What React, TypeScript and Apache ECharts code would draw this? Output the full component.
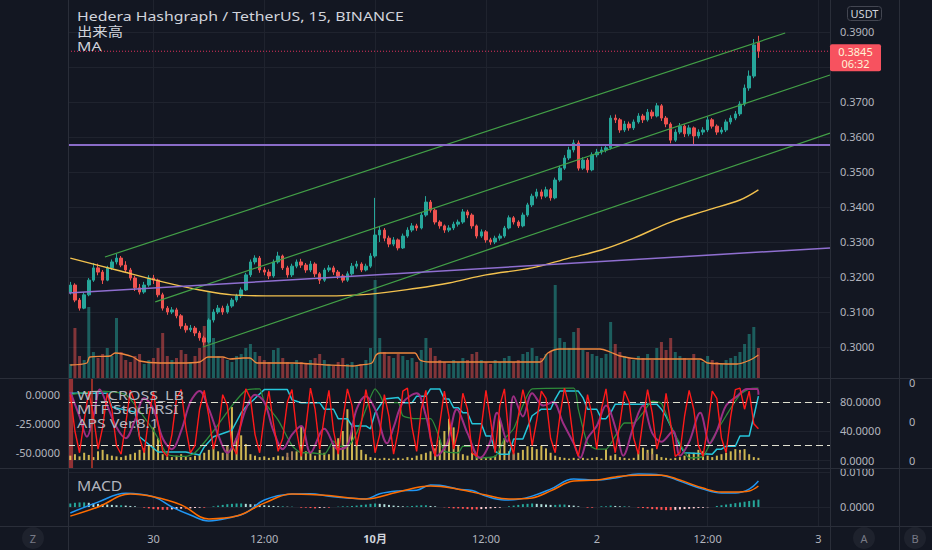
import React, { useEffect, useRef } from 'react';
import * as echarts from 'echarts';

// 30-minute candles: [open, close, low, high]
const candles: number[][] = [
  [0.3157,0.3177,0.3150,0.3186],[0.3177,0.3134,0.3128,0.3182],[0.3134,0.3111,0.3104,0.3140],[0.3111,0.3149,0.3108,0.3156],[0.3149,0.3191,0.3145,0.3197],
  [0.3191,0.3226,0.3186,0.3240],[0.3226,0.3214,0.3205,0.3238],[0.3214,0.3191,0.3180,0.3220],[0.3191,0.3226,0.3188,0.3232],[0.3226,0.3243,0.3220,0.3250],
  [0.3243,0.3254,0.3236,0.3266],[0.3254,0.3234,0.3228,0.3260],[0.3234,0.3220,0.3214,0.3245],[0.3220,0.3197,0.3190,0.3226],[0.3197,0.3169,0.3160,0.3203],
  [0.3169,0.3157,0.3150,0.3180],[0.3157,0.3177,0.3152,0.3186],[0.3177,0.3197,0.3172,0.3205],[0.3197,0.3191,0.3180,0.3206],[0.3191,0.3149,0.3142,0.3195],
  [0.3149,0.3111,0.3104,0.3155],[0.3111,0.3100,0.3092,0.3117],[0.3100,0.3106,0.3094,0.3114],[0.3106,0.3089,0.3082,0.3112],[0.3089,0.3060,0.3052,0.3094],
  [0.3060,0.3049,0.3041,0.3068],[0.3049,0.3054,0.3043,0.3063],[0.3054,0.3040,0.3031,0.3060],[0.3040,0.3026,0.3018,0.3046],[0.3026,0.3014,0.3004,0.3032],
  [0.3014,0.3077,0.3010,0.3082],[0.3077,0.3100,0.3070,0.3108],[0.3100,0.3111,0.3094,0.3120],[0.3111,0.3100,0.3092,0.3118],[0.3100,0.3117,0.3095,0.3124],
  [0.3117,0.3134,0.3112,0.3140],[0.3134,0.3146,0.3128,0.3152],[0.3146,0.3163,0.3140,0.3170],[0.3163,0.3206,0.3160,0.3212],[0.3206,0.3243,0.3200,0.3250],
  [0.3243,0.3254,0.3236,0.3262],[0.3254,0.3220,0.3212,0.3260],[0.3220,0.3214,0.3205,0.3228],[0.3214,0.3203,0.3194,0.3222],[0.3203,0.3243,0.3198,0.3250],
  [0.3243,0.3260,0.3238,0.3272],[0.3260,0.3226,0.3220,0.3264],[0.3226,0.3206,0.3198,0.3232],[0.3206,0.3231,0.3200,0.3238],[0.3231,0.3243,0.3225,0.3250],
  [0.3243,0.3234,0.3226,0.3252],[0.3234,0.3220,0.3212,0.3240],[0.3220,0.3237,0.3214,0.3246],[0.3237,0.3209,0.3200,0.3242],[0.3209,0.3191,0.3180,0.3214],
  [0.3191,0.3220,0.3186,0.3226],[0.3220,0.3226,0.3214,0.3234],[0.3226,0.3214,0.3206,0.3232],[0.3214,0.3203,0.3194,0.3220],[0.3203,0.3191,0.3184,0.3208],
  [0.3191,0.3209,0.3186,0.3216],[0.3209,0.3231,0.3204,0.3240],[0.3231,0.3237,0.3224,0.3246],[0.3237,0.3220,0.3214,0.3242],[0.3220,0.3231,0.3216,0.3238],
  [0.3231,0.3260,0.3226,0.3268],[0.3260,0.3320,0.3255,0.3426],[0.3320,0.3334,0.3300,0.3346],[0.3334,0.3311,0.3302,0.3340],[0.3311,0.3294,0.3285,0.3318],
  [0.3294,0.3306,0.3288,0.3314],[0.3306,0.3283,0.3276,0.3310],[0.3283,0.3317,0.3280,0.3324],[0.3317,0.3334,0.3312,0.3342],[0.3334,0.3346,0.3328,0.3354],
  [0.3346,0.3340,0.3332,0.3352],[0.3340,0.3377,0.3336,0.3384],[0.3377,0.3414,0.3372,0.3431],[0.3414,0.3391,0.3384,0.3420],[0.3391,0.3357,0.3350,0.3396],
  [0.3357,0.3346,0.3338,0.3362],[0.3346,0.3334,0.3326,0.3350],[0.3334,0.3340,0.3328,0.3348],[0.3340,0.3351,0.3334,0.3358],[0.3351,0.3357,0.3344,0.3364],
  [0.3357,0.3386,0.3352,0.3394],[0.3386,0.3377,0.3368,0.3392],[0.3377,0.3346,0.3338,0.3382],[0.3346,0.3317,0.3310,0.3350],[0.3317,0.3329,0.3312,0.3336],
  [0.3329,0.3306,0.3298,0.3334],[0.3306,0.3300,0.3292,0.3312],[0.3300,0.3311,0.3294,0.3318],[0.3311,0.3317,0.3304,0.3324],[0.3317,0.3340,0.3312,0.3346],
  [0.3340,0.3369,0.3336,0.3376],[0.3369,0.3357,0.3350,0.3374],[0.3357,0.3346,0.3340,0.3362],[0.3346,0.3377,0.3342,0.3384],[0.3377,0.3406,0.3372,0.3412],
  [0.3406,0.3431,0.3400,0.3438],[0.3431,0.3443,0.3424,0.3452],[0.3443,0.3431,0.3422,0.3450],[0.3431,0.3449,0.3426,0.3458],[0.3449,0.3426,0.3418,0.3454],
  [0.3426,0.3477,0.3422,0.3484],[0.3477,0.3511,0.3472,0.3518],[0.3511,0.3540,0.3506,0.3548],[0.3540,0.3563,0.3534,0.3572],[0.3563,0.3583,0.3556,0.3592],
  [0.3583,0.3511,0.3504,0.3590],[0.3511,0.3534,0.3506,0.3542],[0.3534,0.3506,0.3498,0.3540],[0.3506,0.3549,0.3502,0.3556],[0.3549,0.3557,0.3542,0.3566],
  [0.3557,0.3563,0.3550,0.3572],[0.3563,0.3569,0.3556,0.3578],[0.3569,0.3654,0.3564,0.3662],[0.3654,0.3649,0.3640,0.3664],[0.3649,0.3620,0.3612,0.3654],
  [0.3620,0.3637,0.3614,0.3646],[0.3637,0.3626,0.3618,0.3644],[0.3626,0.3643,0.3620,0.3650],[0.3643,0.3660,0.3638,0.3668],[0.3660,0.3649,0.3640,0.3666],
  [0.3649,0.3671,0.3644,0.3680],[0.3671,0.3660,0.3652,0.3678],[0.3660,0.3689,0.3656,0.3697],[0.3689,0.3654,0.3646,0.3694],[0.3654,0.3637,0.3628,0.3660],
  [0.3637,0.3591,0.3582,0.3642],[0.3591,0.3614,0.3586,0.3622],[0.3614,0.3631,0.3608,0.3640],[0.3631,0.3609,0.3600,0.3636],[0.3609,0.3626,0.3602,0.3634],
  [0.3626,0.3603,0.3580,0.3630],[0.3603,0.3614,0.3596,0.3622],[0.3614,0.3620,0.3606,0.3628],[0.3620,0.3649,0.3614,0.3658],[0.3649,0.3631,0.3624,0.3654],
  [0.3631,0.3614,0.3606,0.3636],[0.3614,0.3620,0.3608,0.3628],[0.3620,0.3643,0.3614,0.3650],[0.3643,0.3654,0.3636,0.3662],[0.3654,0.3666,0.3648,0.3674],
  [0.3666,0.3694,0.3660,0.3702],[0.3694,0.3740,0.3688,0.3750],[0.3740,0.3774,0.3732,0.3790],[0.3774,0.3863,0.3768,0.3880],[0.3870,0.3845,0.3826,0.3889],
];

const volumes: number[] = [
  14, 50, 22, 18, 71, 26, 20, 24, 30, 22,
  60, 26, 18, 16, 22, 24, 14, 18, 20, 30,
  45, 22, 18, 20, 28, 24, 16, 22, 30, 52,
  86, 40, 22, 20, 18, 16, 22, 24, 30, 34,
  26, 22, 18, 16, 28, 30, 20, 16, 14, 18,
  16, 14, 18, 20, 24, 18, 14, 12, 16, 20,
  14, 16, 12, 14, 18, 30, 98, 40, 26, 22,
  20, 24, 22, 18, 20, 16, 28, 40, 30, 22,
  18, 16, 14, 18, 16, 20, 18, 24, 26, 18,
  16, 14, 18, 16, 20, 22, 16, 18, 24, 26,
  30, 22, 20, 24, 26, 93, 40, 36, 30, 46,
  50, 28, 26, 24, 22, 20, 24, 56, 34, 26,
  22, 20, 18, 22, 20, 24, 18, 30, 36, 28,
  40, 26, 22, 20, 18, 24, 18, 16, 22, 18,
  16, 14, 18, 20, 22, 26, 34, 44, 51, 30,
];

const volumeMA: number[][] = [
  [0, 13], [3.6, 15], [4.2, 21], [8.6, 22], [9.7, 25], [11.4, 24], [13.6, 21], [15, 17], [19.4, 15], [23.7, 15],
  [28, 16], [29.8, 21], [33, 21], [34.6, 19], [37.4, 20], [38.9, 20], [40.4, 15], [48.2, 15], [55.6, 13], [61.2, 12],
  [62.7, 13], [65.3, 15], [66.2, 23], [67.1, 25], [74.6, 25], [75.7, 18], [77.9, 16], [101.7, 16], [103.4, 25], [106, 29],
  [114.7, 29], [116.9, 26], [119, 22], [123.4, 19], [136.4, 19], [138, 15], [144.4, 14], [147.2, 18], [149, 23],
];

const priceMA: number[][] = [
  [0, 0.3254], [10, 0.3220], [20, 0.3186], [28, 0.3163], [35, 0.3149], [45, 0.3146], [55, 0.3146], [65, 0.3151],
  [75, 0.3168], [82, 0.3183], [90, 0.3206], [100, 0.3226], [108, 0.3254], [115, 0.3277], [122, 0.3311], [130, 0.3357],
  [138, 0.3391], [145, 0.3420], [149, 0.3449],
];

const channelUpper: number[][] = [[7.5, 0.3257], [154.8, 0.3897]];
const channelMiddle: number[][] = [[18.4, 0.3129], [164.5, 0.3777]];
const channelLower: number[][] = [[28.7, 0.3000], [164.5, 0.3611]];
const levelLine: number[][] = [[-0.5, 0.3577], [164.5, 0.3577]];
const supportLine: number[][] = [[-0.5, 0.3154], [164.5, 0.3283]];

const lastPrice = 0.3845;
const countdown = '06:32';

const priceTicks = [0.30, 0.31, 0.32, 0.33, 0.34, 0.35, 0.36, 0.37, 0.38, 0.39];
const priceLabelTicks = [0.30, 0.31, 0.32, 0.33, 0.34, 0.35, 0.36, 0.37, 0.39];
const timeTickIdx = [18, 42, 66, 90, 114, 138, 162];
const timeTickLabels = ['30', '12:00', '10月', '12:00', '2', '12:00', '3'];

// MTF StochRSI style lines (right scale 0-100)
const stochFast: number[] = [
  90, 40, 10, 55, 95, 60, 15, 45, 92, 70,
  20, 8, 50, 96, 80, 30, 10, 60, 94, 50,
  12, 5, 35, 85, 97, 45, 10, 20, 70, 96,
  60, 15, 40, 90, 75, 20, 8, 55, 98, 85,
  35, 10, 60, 95, 50, 12, 30, 80, 97, 40,
  5, 45, 99, 70, 15, 60, 96, 40, 8, 55,
  98, 75, 20, 50, 97, 65, 10, 35, 90, 60,
  8, 40, 95, 99, 45, 12, 70, 96, 30, 5,
  50, 95, 60, 15, 40, 92, 70, 10, 5, 45,
  96, 55, 10, 75, 98, 30, 8, 60, 97, 70,
  20, 55, 95, 85, 30, 10, 60, 99, 75, 25,
  5, 40, 90, 60, 15, 70, 98, 45, 10, 50,
  95, 80, 30, 8, 55, 97, 65, 15, 40, 92,
  50, 5, 10, 60, 96, 70, 20, 5, 45, 95,
  85, 30, 10, 60, 97, 99, 70, 95, 50, 43,
];
const stochSlow: number[][] = [
  [0, 94], [2, 60], [3.6, 32], [5, 60], [6.4, 97], [8, 75], [10, 45], [12, 30], [14, 55], [16, 85],
  [18, 70], [20, 30], [22, 15], [24, 40], [26, 80], [28, 95], [30, 70], [32, 35], [34, 10], [36, 30],
  [38, 70], [40, 90], [42, 80], [44, 40], [46, 15], [48, 35], [50, 47], [52, 10], [55, 43], [58, 15],
  [60, 20], [62, 70], [64, 88], [66, 70], [68.6, 23], [70, 45], [72, 79], [75, 92], [77, 61], [79.4, 6],
  [81.6, 23], [83.7, 70], [86, 37], [88.7, 3], [90.9, 25], [92.4, 65], [94.6, 25], [96, 88], [98, 60], [100, 92],
  [102.4, 75], [104.5, 80], [106.7, 51], [109, 23], [110.4, 3], [112, 30], [114, 47], [116, 75], [118.4, 37], [119.7, 6],
  [122, 47], [124, 75], [126, 37], [128, 25], [130.5, 40], [132, 6], [134, 25], [136.4, 65], [138.5, 23], [140, 40],
  [142, 75], [144.4, 88], [146.5, 98], [148.7, 98], [149, 90],
];
const stochMid: number[][] = [
  [0, 90], [6, 95], [12, 90], [17, 50], [19, 30], [21, 8], [25, 5], [27, 10], [31, 40], [35, 75],
  [38, 96], [41, 98], [42, 80], [45, 55], [48, 20], [50, 10], [52, 10], [55, 8], [57, 26], [58, 19],
  [60, 19], [62, 37], [64, 70], [66, 98], [67, 90], [68, 79], [71, 79], [72, 61], [75, 57], [78, 57],
  [80, 29], [81, 12], [84, 10], [85, 19], [87, 19], [88, 3], [92, 5], [94, 29], [96, 43], [98, 75],
  [100, 98], [109, 99], [110, 70], [112, 23], [114, 15], [116, 15], [118, 33], [120, 51], [122, 51], [124, 65],
  [126, 81], [128, 78], [130, 47], [132, 23], [134, 3], [137, 5], [139, 29], [142, 61], [145, 90], [147, 98],
  [149, 99],
];
const stochHigh: number[][] = [
  [0, 92], [8, 92], [9, 73], [14, 66], [15, 32], [19, 11], [25, 11], [28, 7], [29, 18], [31, 32],
  [35, 41], [37, 65], [38, 73], [42, 97], [47, 97], [48, 83], [50, 79], [54, 79], [55, 70], [57, 70],
  [58, 57], [60, 57], [61, 47], [64, 47], [65, 43], [66, 65], [68, 84], [71, 86], [72, 79], [74, 79],
  [75, 88], [77, 88], [78, 98], [80, 98], [81, 84], [82, 84], [83, 72], [84, 72], [85, 65], [86, 65],
  [87, 50], [89, 50], [90, 33], [91, 33], [92, 12], [93, 8], [95, 8], [96, 29], [98, 29], [99, 45],
  [100, 61], [102, 70], [104, 70], [105, 84], [106, 95], [110, 95], [111, 86], [112, 70], [114, 70], [115, 57],
  [116, 57], [117, 65], [118, 77], [127, 77], [128, 70], [129, 60], [130, 47], [131, 33], [132, 20], [133, 10],
  [139, 8], [140, 15], [141, 15], [142, 19], [144, 19], [145, 33], [147, 33], [148, 60], [149, 88],
];
const apsBars: number[] = [
  6, 8, 5, 10, 7, 4, 12, 14, 8, 6,
  5, 4, 6, 8, 10, 14, 16, 20, 45, 30,
  8, 5, 4, 6, 8, 5, 4, 6, 8, 10,
  14, 18, 12, 10, 20, 73, 30, 34, 22, 8,
  6, 4, 5, 3, 4, 6, 5, 4, 3, 12,
  47, 12, 10, 6, 14, 10, 8, 20, 30, 40,
  70, 50, 25, 14, 8, 4, 3, 2, 3, 2,
  2, 3, 2, 4, 3, 6, 8, 10, 12, 16,
  28, 40, 57, 45, 20, 8, 6, 10, 5, 4,
  3, 4, 6, 57, 30, 12, 8, 10, 14, 19,
  18, 15, 20, 16, 10, 6, 4, 3, 2, 3,
  2, 3, 2, 3, 4, 2, 15, 6, 8, 4,
  3, 2, 3, 12, 17, 14, 16, 8, 4, 3,
  2, 3, 4, 6, 8, 10, 14, 12, 6, 4,
  6, 8, 10, 12, 15, 14, 15, 8, 4, 3,
];
const apsBrown: number[][] = [[34, 18], [47, 10], [48, 12], [95, 8], [96, 10], [125, 10], [126, 8], [145, 10]];

const macdLine: number[][] = [
  [0, -0.0017], [6, 0.0014], [12, 0.0039], [18, 0.0029], [22, 0.0], [26, -0.0023], [30, -0.0040], [35, -0.0029],
  [38, -0.0017], [42, 0.0020], [48, 0.0037], [52, 0.0038], [56, 0.0031], [60, 0.0026], [64, 0.0023], [67, 0.0038],
  [71, 0.0046], [75, 0.0048], [78, 0.0063], [80, 0.0062], [84, 0.0051], [87, 0.0047], [90, 0.0031], [94, 0.0020],
  [97, 0.0022], [100, 0.0031], [104, 0.0051], [109, 0.0080], [114, 0.0077], [118, 0.0083], [123, 0.0094], [128, 0.0091],
  [132, 0.0074], [137, 0.0051], [141, 0.0040], [144, 0.0040], [147, 0.0051], [149, 0.0074],
];
const signalLine: number[][] = [
  [0, -0.0026], [6, 0.0], [13, 0.0037], [18, 0.0029], [24, 0.0006], [30, -0.0034], [36, -0.0026], [42, 0.0011],
  [48, 0.0037], [52, 0.0036], [56, 0.0033], [64, 0.0023], [71, 0.0043], [78, 0.0060], [84, 0.0051], [90, 0.0034],
  [95, 0.0023], [100, 0.0026], [104, 0.0046], [109, 0.0074], [114, 0.0077], [118, 0.0086], [123, 0.0091], [128, 0.0091],
  [132, 0.0077], [137, 0.0054], [141, 0.0043], [144, 0.0043], [147, 0.0046], [149, 0.0060],
];
// histogram in units of 0.0001
const macdHist: number[] = [
  10, 12, 13, 13, 12, 10, 9, 8, 7, 6,
  5, 5, 4, 3, 2, 0, -2, -4, -6, -7,
  -8, -8, -7, -6, -5, -5, -4, -3, -2, -2,
  0, 2, 4, 6, 8, 9, 10, 10, 9, 8,
  7, 6, 5, 4, 3, 2, 2, 1, 1, 0,
  -2, -2, -3, -4, -3, -2, -2, 0, 1, 2,
  2, 3, 4, 6, 7, 9, 10, 9, 8, 6,
  4, 3, 2, 2, 3, 4, 5, 5, 3, 2,
  0, -1, -2, -4, -4, -5, -6, -7, -7, -6,
  -5, -4, -3, -2, 0, 2, 4, 6, 8, 9,
  10, 9, 8, 7, 6, 6, 7, 7, 5, 4,
  2, 0, -2, -2, 0, 2, 2, 4, 3, 2,
  2, 1, 0, -2, -3, -4, -6, -7, -8, -9,
  -9, -8, -7, -6, -5, -4, -3, -2, -1, 0,
  3, 5, 7, 9, 11, 13, 15, 17, 19, 21,
];

const oscLeftTicks = [0, -25, -50];
const oscRightTicks = [0, 40, 80];
const oscFarTicks = [8, 47, 86];
const macdTicks = [0, 0.01];

const BG = '#131722';
const TXT = '#b2b5be';
const GRIDC = '#1f232e';
const SEP = '#2a2e39';
const UP = '#26a69a';
const DOWN = '#ef5350';
const FONT = "'Noto Sans', 'Noto Sans CJK JP', sans-serif";

export default function App() {
  const ref = useRef<HTMLDivElement>(null);
  useEffect(() => {
    document.body.style.margin = '0';
    document.body.style.background = BG;
    const chart = echarts.init(ref.current!, null, { renderer: 'svg' });

    const xMin = -0.5, xMax = 164.5;
    const mkX = (g: number, labels: boolean) => ({
      type: 'value', gridIndex: g, min: xMin, max: xMax,
      axisLine: { show: false },
      axisTick: { show: false, customValues: timeTickIdx },
      axisLabel: labels ? {
        show: true, customValues: timeTickIdx, color: TXT, fontSize: 11, fontFamily: FONT, margin: 7,
        formatter: (v: number) => {
          const k = timeTickIdx.indexOf(Math.round(v));
          const s = k >= 0 ? timeTickLabels[k] : '';
          return s === '10月' ? '{b|' + s + '}' : s;
        },
        rich: { b: { fontWeight: 'bold', color: '#d1d4dc', fontSize: 11, fontFamily: FONT } },
      } : { show: false },
      splitLine: { show: g !== 1, lineStyle: { color: GRIDC, width: 1 } },
    });

    const lbl = (ticks: number[], fmt: (v: number) => string, margin: number) => ({
      customValues: ticks, color: TXT, fontSize: 11, lineHeight: 11, fontFamily: FONT, margin, formatter: fmt,
    });

    const volData = candles.map((c, i) => ({
      value: [i, volumes[i]],
      itemStyle: { color: c[1] >= c[0] ? 'rgba(38,166,154,0.5)' : 'rgba(239,83,80,0.5)' },
    }));
    const histData = macdHist.map((h, i) => {
      const prev = i > 0 ? macdHist[i - 1] : h;
      const color = h >= 0 ? (h >= prev ? '#26a69a' : '#b2dfdb') : (h <= prev ? '#ff5252' : '#ffcdd2');
      return { value: [i, h * 0.0001], itemStyle: { color } };
    });

    const line = (data: number[][], color: string, width: number, xi: number, yi: number, extra: any = {}) => ({
      type: 'line', data, xAxisIndex: xi, yAxisIndex: yi, symbol: 'none', showSymbol: false,
      lineStyle: { color, width }, silent: true, ...extra,
    });

    const txt = (id: string, x: number, y: number, text: string, size: number, sx: number, fill: string) => ({
      id, type: 'text', x, y, scaleX: sx, z: 20,
      style: { text, fill, font: `${size}px ${FONT}`, verticalAlign: 'middle' },
    });

    const staticGraphics: any[] = [
      txt('t1', 77, 16, 'Hedera Hashgraph / TetherUS, 15, BINANCE', 13, 1.22, '#d1d4dc'),
      txt('t2', 77, 31, '出来高', 13, 1.18, '#d1d4dc'),
      txt('t3', 77, 45.5, 'MA', 13, 1.22, '#d1d4dc'),
      txt('t4', 77, 395, 'WT_CROSS_LB', 12.5, 1.28, TXT),
      txt('t5', 77, 409, 'MTF StochRSI', 12.5, 1.28, TXT),
      txt('t6', 77, 423, 'APS Ver.8.1', 12.5, 1.28, TXT),
      txt('t7', 77, 485, 'MACD', 14, 1.12, TXT),
      { id: 'u1', type: 'rect', shape: { x: 847.5, y: 6.5, width: 34, height: 14, r: 3 }, style: { fill: 'none', stroke: '#434651', lineWidth: 1 } },
      { id: 'u2', type: 'text', x: 864.5, y: 13.5, style: { text: 'USDT', fill: '#d1d4dc', font: `11px ${FONT}`, align: 'center', verticalAlign: 'middle' } },
      { id: 's1', type: 'line', z: 30, shape: { x1: 0, y1: 378.5, x2: 932, y2: 378.5 }, style: { stroke: SEP, lineWidth: 1 } },
      { id: 's2', type: 'line', z: 30, shape: { x1: 0, y1: 468.5, x2: 932, y2: 468.5 }, style: { stroke: SEP, lineWidth: 1 } },
      { id: 's3', type: 'line', z: 30, shape: { x1: 0, y1: 526.5, x2: 932, y2: 526.5 }, style: { stroke: SEP, lineWidth: 1 } },
      { id: 's4', type: 'line', z: 30, shape: { x1: 68.5, y1: 0, x2: 68.5, y2: 550 }, style: { stroke: SEP, lineWidth: 1 } },
      { id: 's5', type: 'line', z: 30, shape: { x1: 830.5, y1: 0, x2: 830.5, y2: 550 }, style: { stroke: SEP, lineWidth: 1 } },
      { id: 's6', type: 'line', z: 30, shape: { x1: 899.5, y1: 0, x2: 899.5, y2: 550 }, style: { stroke: SEP, lineWidth: 1 } },
      { id: 'b1', type: 'circle', shape: { cx: 33, cy: 538, r: 11 }, style: { fill: '#1e222d' } },
      { id: 'b2', type: 'text', x: 33, y: 538, style: { text: 'Z', fill: '#787b86', font: `11px ${FONT}`, align: 'center', verticalAlign: 'middle' } },
      { id: 'b3', type: 'circle', shape: { cx: 864, cy: 538, r: 11 }, style: { fill: '#1e222d' } },
      { id: 'b4', type: 'text', x: 864, y: 538, style: { text: 'A', fill: '#787b86', font: `11px ${FONT}`, align: 'center', verticalAlign: 'middle' } },
      { id: 'b5', type: 'circle', shape: { cx: 915, cy: 538, r: 11 }, style: { fill: '#1e222d' } },
      { id: 'b6', type: 'text', x: 915, y: 538, style: { text: 'B', fill: '#787b86', font: `11px ${FONT}`, align: 'center', verticalAlign: 'middle' } },
    ];

    const option: any = {
      animation: false,
      backgroundColor: BG,
      grid: [
        { left: 68, right: 102, top: 0, height: 378 },
        { left: 68, right: 102, top: 278, height: 100 },
        { left: 68, right: 102, top: 378, height: 90 },
        { left: 68, right: 102, top: 468, height: 58 },
      ],
      xAxis: [mkX(0, false), mkX(1, false), mkX(2, false), mkX(3, true)],
      yAxis: [
        { type: 'value', gridIndex: 0, position: 'right', min: 0.29114, max: 0.39914,
          axisLine: { show: false }, axisTick: { show: false, customValues: priceTicks },
          axisLabel: lbl(priceLabelTicks, (v) => v.toFixed(4), 10),
          splitLine: { show: true, lineStyle: { color: GRIDC } } },
        { type: 'value', gridIndex: 1, min: 0, max: 100, show: false, splitLine: { show: false } },
        { type: 'value', gridIndex: 2, position: 'left', min: -64, max: 14.9,
          axisLine: { show: false }, axisTick: { show: false, customValues: oscLeftTicks },
          axisLabel: lbl(oscLeftTicks, (v) => v.toFixed(4), 8), splitLine: { show: false } },
        { type: 'value', gridIndex: 2, position: 'right', min: -11, max: 113,
          axisLine: { show: false }, axisTick: { show: false, customValues: oscRightTicks },
          axisLabel: lbl(oscRightTicks, (v) => v.toFixed(4), 10),
          splitLine: { show: true, lineStyle: { color: GRIDC } } },
        { type: 'value', gridIndex: 2, position: 'right', offset: 69, min: 0, max: 90,
          axisLine: { show: false }, axisTick: { show: false, customValues: oscFarTicks },
          axisLabel: lbl(oscFarTicks, () => '0', 10), splitLine: { show: false } },
        { type: 'value', gridIndex: 3, position: 'right', min: -0.00543, max: 0.01114,
          axisLine: { show: false }, axisTick: { show: false, customValues: macdTicks },
          axisLabel: lbl(macdTicks, (v) => v.toFixed(4), 10),
          splitLine: { show: true, lineStyle: { color: GRIDC } } },
      ],
      series: [
        { type: 'bar', xAxisIndex: 1, yAxisIndex: 1, data: volData, barWidth: 3, z: 1, silent: true },
        line(volumeMA, '#f0883e', 1.3, 1, 1, { smooth: 0.3, z: 2 }),
        { type: 'candlestick', xAxisIndex: 0, yAxisIndex: 0, z: 3, barWidth: 3, silent: true,
          data: candles.map((c, i) => [i, c[0], c[1], c[2], c[3]]),
          itemStyle: { color: UP, color0: DOWN, borderColor: UP, borderColor0: DOWN, borderWidth: 1 } },
        line(priceMA, '#f2c14e', 1.4, 0, 0, { smooth: 0.35, z: 4 }),
        line(channelUpper, '#43a047', 1.2, 0, 0, { z: 4 }),
        line(channelMiddle, '#43a047', 1.2, 0, 0, { z: 4 }),
        line(channelLower, '#43a047', 1.2, 0, 0, { z: 4 }),
        line(supportLine, '#8f6fd0', 1.5, 0, 0, { z: 4 }),
        line(levelLine, '#8a6cc8', 2, 0, 0, { z: 4 }),
        line([[xMin, lastPrice], [xMax, lastPrice]], '#e0315c', 1, 0, 0, { z: 4, lineStyle: { color: '#e0315c', width: 1, type: [1, 2] } }),
        { type: 'bar', xAxisIndex: 2, yAxisIndex: 3, data: apsBars.map((v, i) => [i, v]), barWidth: 2, barGap: '-100%',
          itemStyle: { color: 'rgba(240,210,90,0.85)' }, silent: true, z: 2 },
        { type: 'bar', xAxisIndex: 2, yAxisIndex: 3, data: apsBrown, barWidth: 2, barGap: '-100%',
          itemStyle: { color: '#a57c5b' }, silent: true, z: 2 },
        line(stochHigh, '#26c6da', 1.5, 2, 3, { z: 3,
          markLine: { silent: true, symbol: 'none', label: { show: false },
            lineStyle: { color: '#e0e0d0', type: [7, 4], width: 1 }, data: [{ yAxis: 80 }, { yAxis: 20 }] } }),
        line(stochMid, '#2e8b3a', 1.3, 2, 3, { z: 3, smooth: 0.2 }),
        line(stochSlow, '#9c2e84', 2, 2, 3, { z: 4, smooth: 0.35 }),
        line(stochFast.map((v, i) => [i, v]), '#ff1a1a', 1.4, 2, 3, { z: 5,
          markArea: { silent: true, itemStyle: { color: 'rgba(190,60,60,0.75)' }, data: [[{ xAxis: -0.5 }, { xAxis: 0.6 }]] },
          markLine: { silent: true, symbol: 'none', label: { show: false },
            lineStyle: { color: '#c0392b', type: 'solid', width: 1.5 }, data: [{ xAxis: 4.7 }] } }),
        { type: 'bar', xAxisIndex: 3, yAxisIndex: 5, data: histData, barWidth: 2, silent: true, z: 2 },
        line(macdLine, '#2196f3', 1.5, 3, 5, { smooth: 0.4, z: 3 }),
        line(signalLine, '#ff6d00', 1.5, 3, 5, { smooth: 0.4, z: 4 }),
      ],
      graphic: staticGraphics,
    };
    chart.setOption(option);

    const py = chart.convertToPixel({ yAxisIndex: 0 }, lastPrice) as number;
    chart.setOption({
      graphic: [
        ...staticGraphics,
        { id: 'p1', type: 'rect', z: 40, shape: { x: 830, y: py - 7, width: 51, height: 27, r: 2 }, style: { fill: '#f7525f' } },
        { id: 'p2', type: 'text', z: 41, x: 855.5, y: py - 6, style: { text: lastPrice.toFixed(4) + '\n' + countdown, fill: '#fff3d6', font: `11px ${FONT}`, lineHeight: 12, align: 'center', verticalAlign: 'top' } },
      ],
    });

    return () => chart.dispose();
  }, []);

  return <div ref={ref} style={{ width: 932, height: 550, background: BG }} />;
}
